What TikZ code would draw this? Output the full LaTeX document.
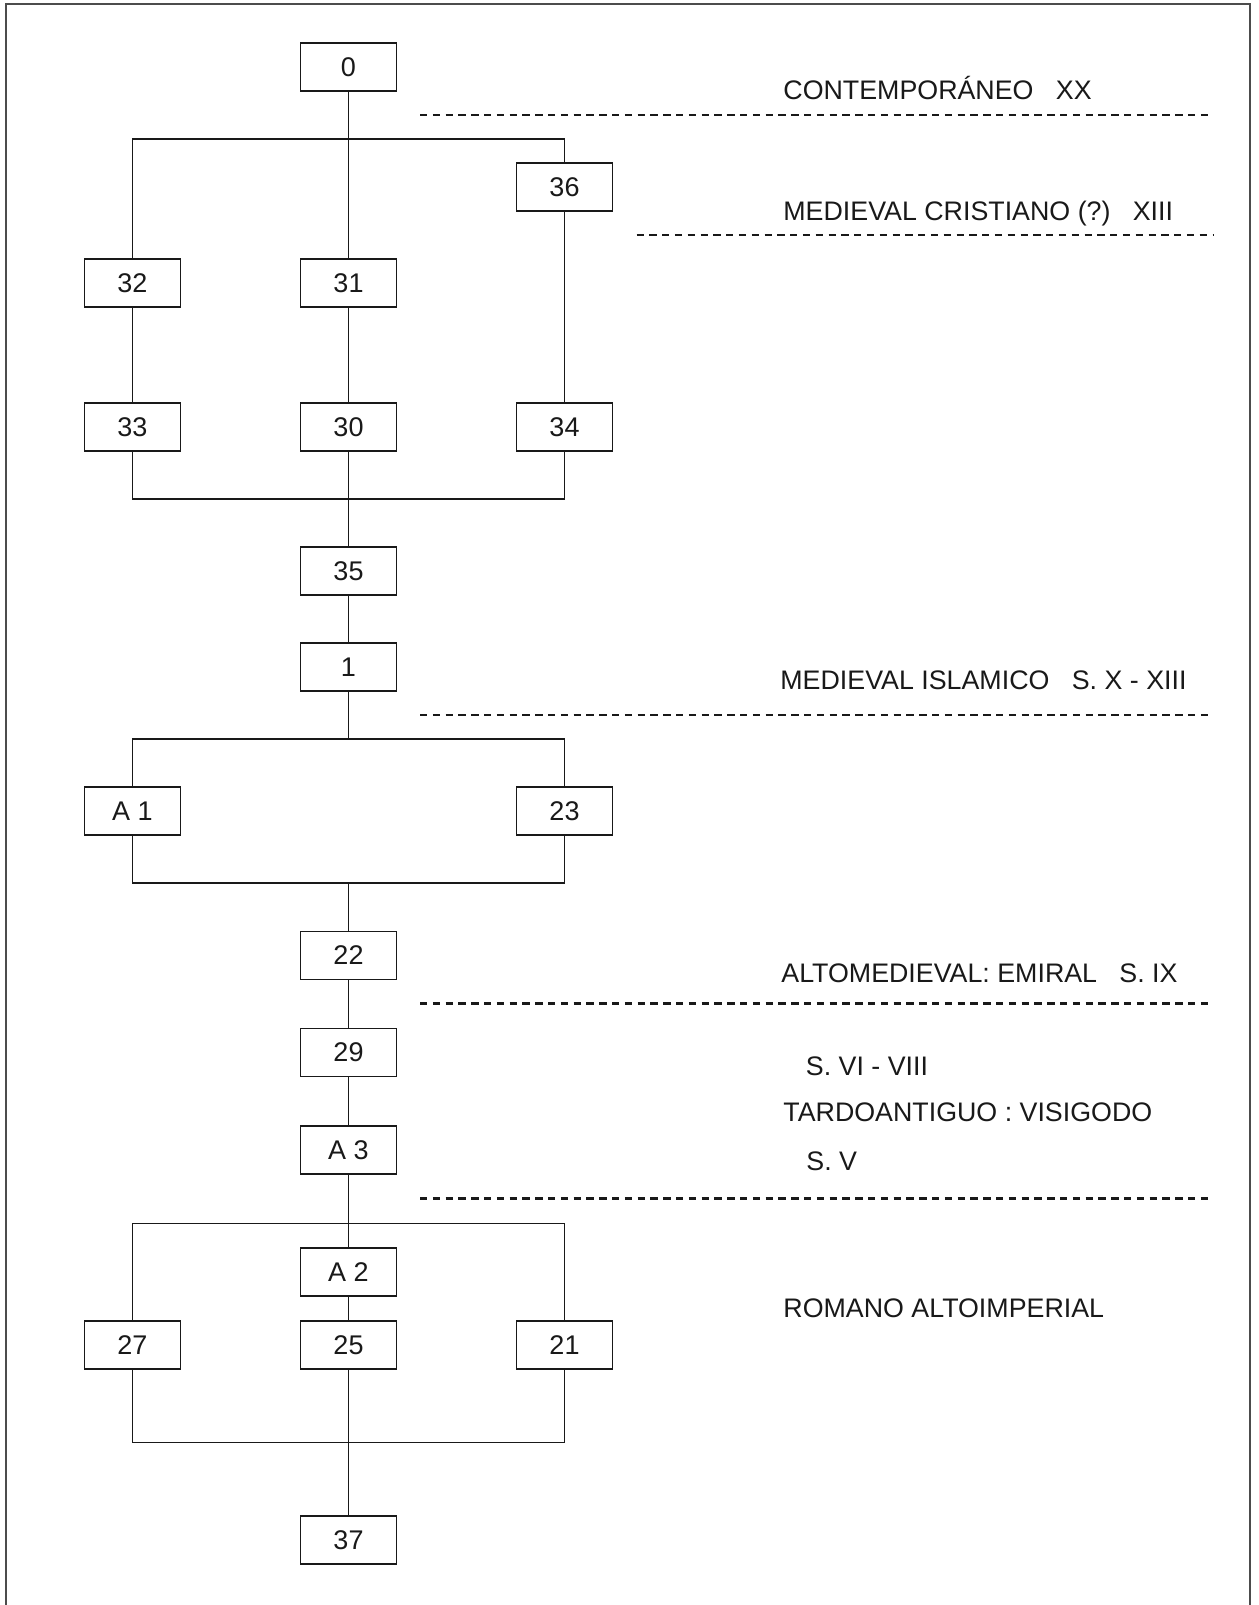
\documentclass[tikz,border=0pt]{standalone}
\usepackage{fontspec}
\setmainfont{Liberation Sans}
\begin{document}
\begin{tikzpicture}[x=0.5pt,y=-0.5pt,
  ubox/.style={draw=black!90, line width=0.7pt, minimum width=48pt, minimum height=24pt, inner sep=0pt, font=\fontsize{13.5pt}{15pt}\selectfont, text=black!90},
  conn/.style={draw=black!90, line width=0.8pt},
  sep/.style={draw=black!90, line width=1.1pt, dash pattern=on 3.65pt off 2.75pt},
  period/.style={anchor=base west, inner sep=0pt, font=\fontsize{13.4pt}{15pt}\selectfont, text=black!90},
  frame/.style={draw=black!70, line width=1pt}]
\useasboundingbox (0,0) rectangle (1258,1605);
\fill[white] (0,0) rectangle (1258,1605);
% frame
\draw[frame] (6,1606) -- (6,4) -- (1249.5,4) -- (1249.5,1606);

% boxes
\node[ubox] (n0)  at (348.5,67)  {0};
\node[ubox] (n36) at (564.5,187) {36};
\node[ubox] (n32) at (132.5,283) {32};
\node[ubox] (n31) at (348.5,283) {31};
\node[ubox] (n33) at (132.5,427) {33};
\node[ubox] (n30) at (348.5,427) {30};
\node[ubox] (n34) at (564.5,427) {34};
\node[ubox] (n35) at (348.5,571) {35};
\node[ubox] (n1)  at (348.5,667) {1};
\node[ubox] (nA1) at (132.5,811) {A 1};
\node[ubox] (n23) at (564.5,811) {23};
\node[ubox] (n22) at (348.5,955.5) {22};
\node[ubox] (n29) at (348.5,1052.5) {29};
\node[ubox] (nA3) at (348.5,1150) {A 3};
\node[ubox] (nA2) at (348.5,1272) {A 2};
\node[ubox] (n27) at (132.5,1345) {27};
\node[ubox] (n25) at (348.5,1345) {25};
\node[ubox] (n21) at (564.5,1345) {21};
\node[ubox] (n37) at (348.5,1540) {37};

% bus coordinates
\coordinate (b1t) at (348.5,139);
\coordinate (b1b) at (348.5,499);
\coordinate (b2t) at (348.5,739);
\coordinate (b2b) at (348.5,883);
\coordinate (b3t) at (348.5,1223.5);
\coordinate (b3b) at (348.5,1442.5);

% group 1
\draw[conn] (n0.south) -- (n31.north);
\draw[conn] (n32.north) -- (n32.north |- b1t) -- (n36.north |- b1t) -- (n36.north);
\draw[conn] (n32.south) -- (n33.north);
\draw[conn] (n31.south) -- (n30.north);
\draw[conn] (n36.south) -- (n34.north);
\draw[conn] (n33.south) -- (n33.south |- b1b) -- (n34.south |- b1b) -- (n34.south);
\draw[conn] (n30.south) -- (n35.north);
\draw[conn] (n35.south) -- (n1.north);
% group 2
\draw[conn] (n1.south) -- (b2t);
\draw[conn] (nA1.north) -- (nA1.north |- b2t) -- (n23.north |- b2t) -- (n23.north);
\draw[conn] (nA1.south) -- (nA1.south |- b2b) -- (n23.south |- b2b) -- (n23.south);
\draw[conn] (b2b) -- (n22.north);
\draw[conn] (n22.south) -- (n29.north);
\draw[conn] (n29.south) -- (nA3.north);
% group 3
\draw[conn] (nA3.south) -- (nA2.north);
\draw[conn] (n27.north) -- (n27.north |- b3t) -- (n21.north |- b3t) -- (n21.north);
\draw[conn] (nA2.south) -- (n25.north);
\draw[conn] (n27.south) -- (n27.south |- b3b) -- (n21.south |- b3b) -- (n21.south);
\draw[conn] (n25.south) -- (n37.north);

% period separators
\coordinate (s1a) at (420,115);   \coordinate (s1b) at (1213,115);
\coordinate (s2a) at (636.5,235); \coordinate (s2b) at (1213,235);
\coordinate (s3a) at (420,715);   \coordinate (s3b) at (1213,715);
\coordinate (s4a) at (420,1003.5);\coordinate (s4b) at (1213,1003.5);
\coordinate (s5a) at (420,1198.5);\coordinate (s5b) at (1213,1198.5);
\draw[sep] (s1a) -- (s1b);
\draw[sep] (s2a) -- (s2b);
\draw[sep] (s3a) -- (s3b);
\draw[sep] (s4a) -- (s4b);
\draw[sep] (s5a) -- (s5b);

% period labels
\node[period] (t1) at (783,99.5) {CONTEMPORÁNEO\ \ \ XX};
\node[period] (t2) at (783,220.5) {MEDIEVAL CRISTIANO (?)\ \ \ XIII};
\node[period] (t3) at (780,689.5) {MEDIEVAL ISLAMICO\ \ \ S. X - XIII};
\node[period] (t4) at (781,982.5) {ALTOMEDIEVAL: EMIRAL\ \ \ S. IX};
\node[period] (t5) at (805.5,1075) {S. VI - VIII};
\node[period] (t6) at (783,1121.5) {TARDOANTIGUO : VISIGODO};
\node[period] (t7) at (806,1170) {S. V};
\node[period] (t8) at (783,1317) {ROMANO ALTOIMPERIAL};
\end{tikzpicture}
\end{document}
